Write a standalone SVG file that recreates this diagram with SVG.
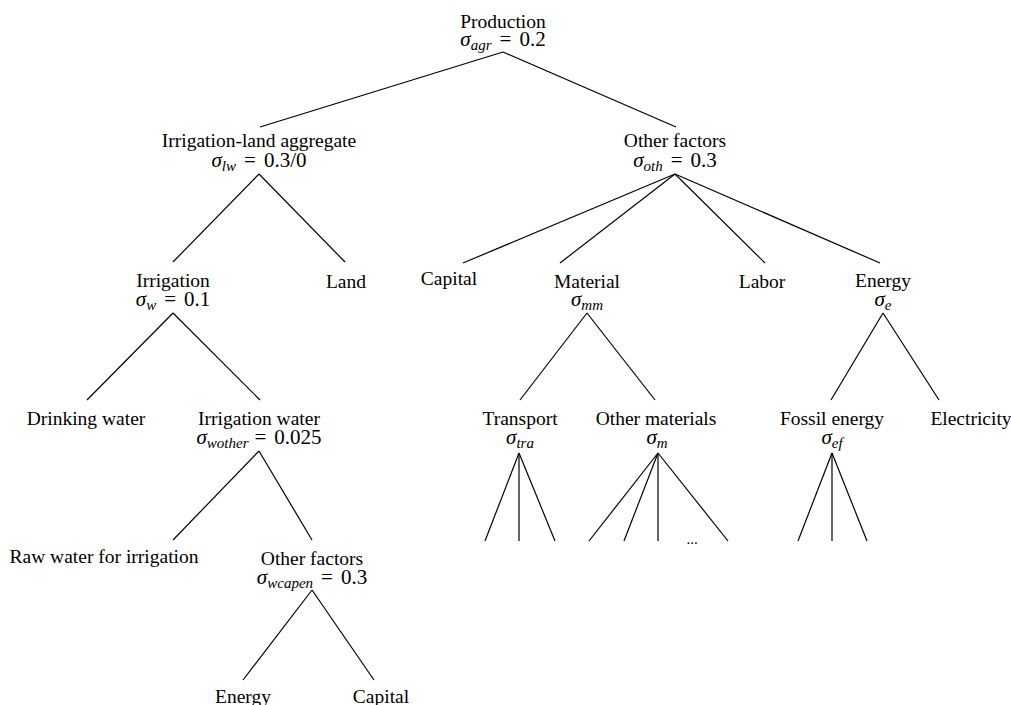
<svg xmlns="http://www.w3.org/2000/svg" width="1011" height="705" viewBox="0 0 1011 705">
<style>
text{font-family:"Liberation Serif","Times New Roman",serif;font-size:19.5px;fill:#000;text-anchor:middle}
text.m{font-size:21px}
.i{font-style:italic}
.s{font-style:italic;font-size:15px}
#connectors line{stroke:#000;stroke-width:1.2;fill:none}
</style>
<rect width="1011" height="705" fill="#fff"/>
<g id="connectors">
<line x1="503" y1="52" x2="260" y2="127"/>
<line x1="503" y1="52" x2="676" y2="127"/>
<line x1="259" y1="174" x2="173" y2="262"/>
<line x1="259" y1="174" x2="345" y2="262"/>
<line x1="675" y1="174" x2="463" y2="263"/>
<line x1="675" y1="174" x2="560" y2="263"/>
<line x1="675" y1="174" x2="765" y2="263"/>
<line x1="675" y1="174" x2="880" y2="263"/>
<line x1="173" y1="313" x2="87" y2="400"/>
<line x1="173" y1="313" x2="260" y2="400"/>
<line x1="587" y1="313" x2="520" y2="400"/>
<line x1="587" y1="313" x2="655" y2="400"/>
<line x1="883" y1="313" x2="831" y2="400"/>
<line x1="883" y1="313" x2="939" y2="400"/>
<line x1="259" y1="451" x2="173" y2="540"/>
<line x1="259" y1="451" x2="312" y2="540"/>
<line x1="519" y1="453" x2="485" y2="541"/>
<line x1="519" y1="453" x2="519" y2="541"/>
<line x1="519" y1="453" x2="555" y2="541"/>
<line x1="658" y1="453" x2="589" y2="541"/>
<line x1="658" y1="453" x2="624" y2="541"/>
<line x1="658" y1="453" x2="658" y2="541"/>
<line x1="658" y1="453" x2="728" y2="541"/>
<line x1="832" y1="453" x2="798" y2="541"/>
<line x1="832" y1="453" x2="832" y2="541"/>
<line x1="832" y1="453" x2="867" y2="541"/>
<line x1="312" y1="590" x2="243" y2="680"/>
<line x1="312" y1="590" x2="374" y2="680"/>
</g>
<g id="production">
<text x="503" y="28">Production</text>
<text class="m" x="503" y="46"><tspan class="i">σ</tspan><tspan class="s" dy="4">agr</tspan><tspan dy="-4" dx="8">=</tspan><tspan dx="8">0.2</tspan></text>
</g>
<g id="irrigation-land">
<text x="259" y="147">Irrigation-land aggregate</text>
<text class="m" x="259" y="167"><tspan class="i">σ</tspan><tspan class="s" dy="4">lw</tspan><tspan dy="-4" dx="8">=</tspan><tspan dx="8">0.3/0</tspan></text>
</g>
<g id="other-factors">
<text x="675" y="147">Other factors</text>
<text class="m" x="675" y="167"><tspan class="i">σ</tspan><tspan class="s" dy="4">oth</tspan><tspan dy="-4" dx="8">=</tspan><tspan dx="8">0.3</tspan></text>
</g>
<g id="irrigation">
<text x="173" y="287">Irrigation</text>
<text class="m" x="173" y="306"><tspan class="i">σ</tspan><tspan class="s" dy="4">w</tspan><tspan dy="-4" dx="8">=</tspan><tspan dx="8">0.1</tspan></text>
</g>
<g id="land"><text x="346" y="288">Land</text></g>
<g id="capital"><text x="449" y="285">Capital</text></g>
<g id="material">
<text x="587" y="288">Material</text>
<text class="m" x="587" y="306"><tspan class="i">σ</tspan><tspan class="s" dy="4">mm</tspan></text>
</g>
<g id="labor"><text x="762" y="288">Labor</text></g>
<g id="energy">
<text x="883" y="287">Energy</text>
<text class="m" x="883" y="306"><tspan class="i">σ</tspan><tspan class="s" dy="4">e</tspan></text>
</g>
<g id="drinking-water"><text x="86" y="425">Drinking water</text></g>
<g id="irrigation-water">
<text x="259" y="425">Irrigation water</text>
<text class="m" x="259" y="444"><tspan class="i">σ</tspan><tspan class="s" dy="4">wother</tspan><tspan dy="-4" dx="6">=</tspan><tspan dx="8">0.025</tspan></text>
</g>
<g id="transport">
<text x="520" y="425">Transport</text>
<text class="m" x="520" y="444"><tspan class="i">σ</tspan><tspan class="s" dy="4">tra</tspan></text>
</g>
<g id="other-materials">
<text x="656" y="425">Other materials</text>
<text class="m" x="657" y="444"><tspan class="i">σ</tspan><tspan class="s" dy="4">m</tspan></text>
<text x="692" y="544" style="font-size:15px">...</text>
</g>
<g id="fossil-energy">
<text x="832" y="425">Fossil energy</text>
<text class="m" x="832" y="444"><tspan class="i">σ</tspan><tspan class="s" dy="4">ef</tspan></text>
</g>
<g id="electricity"><text x="971" y="425">Electricity</text></g>
<g id="raw-water"><text x="104" y="563">Raw water for irrigation</text></g>
<g id="other-factors-water">
<text x="312" y="565">Other factors</text>
<text class="m" x="312" y="584"><tspan class="i">σ</tspan><tspan class="s" dy="4">wcapen</tspan><tspan dy="-4" dx="8">=</tspan><tspan dx="8">0.3</tspan></text>
</g>
<g id="energy-water"><text x="243" y="703">Energy</text></g>
<g id="capital-water"><text x="381" y="703">Capital</text></g>
</svg>
